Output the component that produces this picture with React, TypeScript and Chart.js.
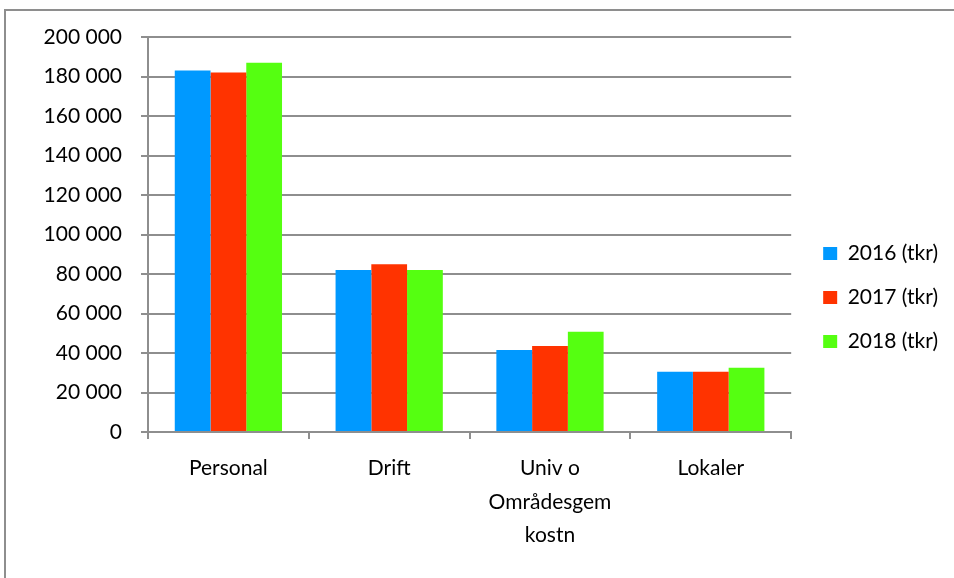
import React, { useEffect, useRef } from "react";
import { Chart, registerables } from "chart.js";

Chart.register(...registerables);

const categories: (string | string[])[] = ["Personal", "Drift", ["Univ o", "Områdesgem", "kostn"], "Lokaler"];
const values2016 = [183000, 82000, 41500, 30500];
const values2017 = [182000, 85000, 43500, 30500];
const values2018 = [187000, 82000, 50800, 32500];
const seriesLabels = ["2016 (tkr)", "2017 (tkr)", "2018 (tkr)"];
const seriesColors = ["#0099FF", "#FF3300", "#55FF11"];
const yMax = 200000;
const yStep = 20000;

const FONT = "Lato, 'Open Sans', sans-serif";
const GRID = "#8e8e8e";

const frame = {
  id: "frame",
  beforeInit(chart: any) {
    const lg = chart.legend;
    if (lg && !lg.__shifted) {
      const orig = lg.draw;
      lg.draw = function (...args: any[]) {
        const c = this.ctx;
        c.save();
        c.translate(9, -10);
        orig.apply(this, args);
        c.restore();
      };
      lg.__shifted = true;
    }
  },
  beforeDraw(chart: any) {
    const ctx = chart.ctx;
    ctx.save();
    ctx.fillStyle = "#ffffff";
    ctx.fillRect(0, 0, chart.width, chart.height);
    ctx.strokeStyle = GRID;
    ctx.lineWidth = 2;
    ctx.beginPath();
    ctx.moveTo(5, chart.height);
    ctx.lineTo(5, 10);
    ctx.lineTo(chart.width, 10);
    ctx.stroke();
    ctx.restore();
  },
};

export default function App() {
  const ref = useRef<HTMLCanvasElement>(null);
  useEffect(() => {
    if (!ref.current) return;
    const chart = new Chart(ref.current, {
      type: "bar",
      data: {
        labels: categories,
        datasets: [values2016, values2017, values2018].map((d, i) => ({
          label: seriesLabels[i],
          data: d,
          backgroundColor: seriesColors[i],
          borderWidth: 0,
          categoryPercentage: 0.667,
          barPercentage: 1,
        })),
      },
      options: {
        responsive: false,
        animation: false,
        layout: { padding: { top: 37, left: 0, right: 15, bottom: 0 } },
        plugins: {
          tooltip: { enabled: false },
          legend: {
            position: "right",
            align: "center",
            labels: {
              boxWidth: 14,
              boxHeight: 13,
              padding: 23,
              color: "#000",
              font: { family: FONT, size: 21 },
            },
          },
        },
        scales: {
          x: {
            afterFit: (s: any) => {
              s.height = 146;
            },
            grid: {
              display: true,
              drawOnChartArea: false,
              drawTicks: true,
              tickLength: 7,
              color: GRID,
              lineWidth: 2,
              offset: true,
            },
            border: { display: true, color: GRID, width: 2 },
            ticks: {
              color: "#000",
              font: { family: FONT, size: 21, lineHeight: 1.58 },
              padding: 13,
              maxRotation: 0,
              autoSkip: false,
            },
          },
          y: {
            min: 0,
            max: yMax,
            afterFit: (s: any) => {
              s.width = 148;
            },
            grid: {
              color: GRID,
              lineWidth: 2,
              drawTicks: true,
              tickLength: 7,
            },
            border: { display: true, color: GRID, width: 2 },
            ticks: {
              stepSize: yStep,
              color: "#000",
              padding: 19,
              font: { family: FONT, size: 21 },
              callback: (v: any) => Number(v).toString().replace(/\B(?=(\d{3})+(?!\d))/g, " "),
            },
          },
        },
      },
      plugins: [frame],
    });
    return () => chart.destroy();
  }, []);
  return (
    <div style={{ position: "fixed", left: 0, top: 0, width: 954, height: 578, background: "#fff" }}>
      <canvas ref={ref} width={954} height={578} style={{ display: "block" }} />
    </div>
  );
}
